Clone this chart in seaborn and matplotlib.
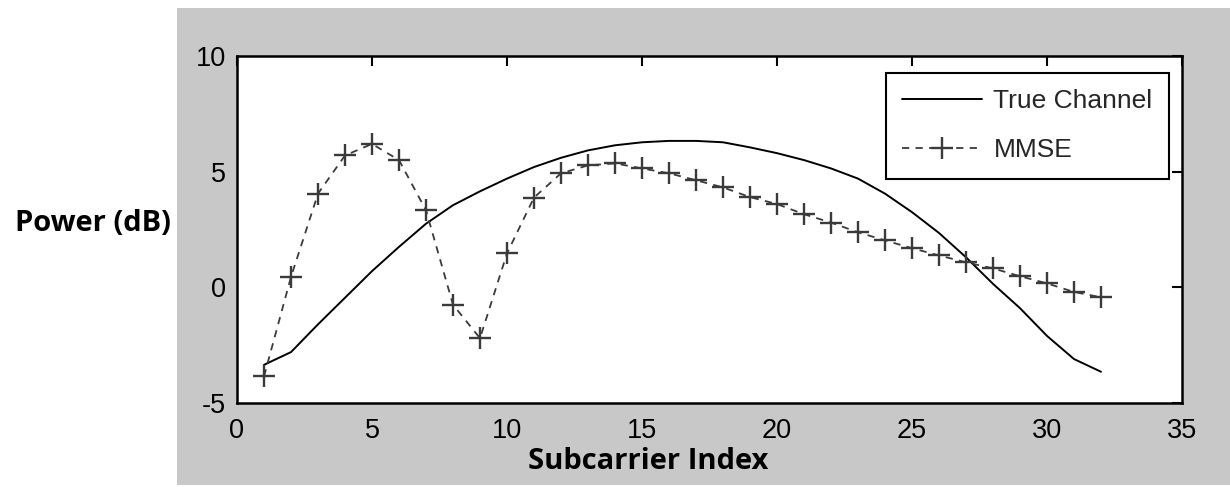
import numpy as np
import pandas as pd
import matplotlib
matplotlib.use("Agg")
import matplotlib.pyplot as plt
from matplotlib.patches import Rectangle
import seaborn as sns

# Subcarrier indices and channel power (dB)
subcarrier = list(range(1, 33))
true_channel = [-3.35, -2.8, -1.6, -0.45, 0.7, 1.75, 2.75, 3.55, 4.15, 4.7,
                5.2, 5.6, 5.92, 6.14, 6.27, 6.33, 6.33, 6.27, 6.05, 5.8,
                5.5, 5.14, 4.7, 4.05, 3.25, 2.35, 1.3, 0.15, -0.9, -2.1,
                -3.1, -3.65]
mmse = [-3.85, 0.45, 4.05, 5.7, 6.2, 5.5, 3.33, -0.75, -2.2, 1.47,
        3.88, 4.93, 5.27, 5.36, 5.14, 4.93, 4.63, 4.32, 3.9, 3.6,
        3.16, 2.8, 2.38, 2.03, 1.69, 1.38, 1.08, 0.82, 0.48, 0.17,
        -0.2, -0.43]

series_names = ["True Channel", "MMSE"]
x_ticks = [0, 5, 10, 15, 20, 25, 30, 35]
y_ticks = [-5, 0, 5, 10]

sns.set_style("white")
plt.rcParams["font.family"] = ["Liberation Sans", "DejaVu Sans"]
plt.rcParams["axes.unicode_minus"] = False

df_true = pd.DataFrame({"Subcarrier": subcarrier, "Power": true_channel})
df_mmse = pd.DataFrame({"Subcarrier": subcarrier, "Power": mmse})

fig = plt.figure(figsize=(12.3, 4.87), dpi=100, facecolor="white")
# grey panel behind the axes
panel = Rectangle((177 / 1230, 1 - 485 / 487), (1230 - 177) / 1230, (485 - 8) / 487,
                  transform=fig.transFigure, facecolor="#c8c8c8",
                  edgecolor="none", zorder=-10)
fig.add_artist(panel)

ax = fig.add_axes([237 / 1230, 1 - 403 / 487, (1182 - 237) / 1230, (403 - 56) / 487])
ax.set_zorder(5)
ax.set_facecolor("white")

mmse_color = "#3a3a3a"
sns.lineplot(data=df_true, x="Subcarrier", y="Power", ax=ax, color="black",
             linewidth=1.4, label=series_names[0])
sns.lineplot(data=df_mmse, x="Subcarrier", y="Power", ax=ax, color=mmse_color,
             linewidth=1.3, marker="+", markersize=16, markeredgewidth=1.7,
             markeredgecolor=mmse_color, markerfacecolor=mmse_color,
             dashes=False, linestyle=(0, (4, 3.5)), label=series_names[1])

ax.set_xlim(0, 35)
ax.set_ylim(-5, 10)
ax.set_xticks(x_ticks)
ax.set_yticks(y_ticks)
ax.tick_params(axis="both", direction="in", length=7, width=1.5, top=True, right=True,
               labelsize=19.5, colors="black")
ax.tick_params(axis="x", pad=11)
ax.tick_params(axis="y", pad=8)
for s in ax.spines.values():
    s.set_visible(True)
    s.set_linewidth(1.8)
    s.set_color("black")

label_font = dict(family=["Open Sans", "DejaVu Sans"], fontweight="bold", fontsize=21, color="black")
ax.set_xlabel("Subcarrier Index", va="center", **label_font)
ax.set_ylabel("Power (dB)", rotation=0, ha="center", va="center", **label_font)
ax.xaxis.set_label_coords(0.435, -0.168)
ax.yaxis.set_label_coords(-0.1524, 0.516)

leg = ax.legend(loc="upper right", bbox_to_anchor=(0.9862, 0.951), borderaxespad=0,
                fontsize=19, frameon=True, fancybox=False, handlelength=3.0,
                handletextpad=0.45, numpoints=1, borderpad=0.62, labelspacing=0.95)
leg.get_frame().set_edgecolor("black")
leg.get_frame().set_linewidth(1.5)
leg.get_frame().set_alpha(1)

fig.savefig("out.png", dpi=100, facecolor="white")
